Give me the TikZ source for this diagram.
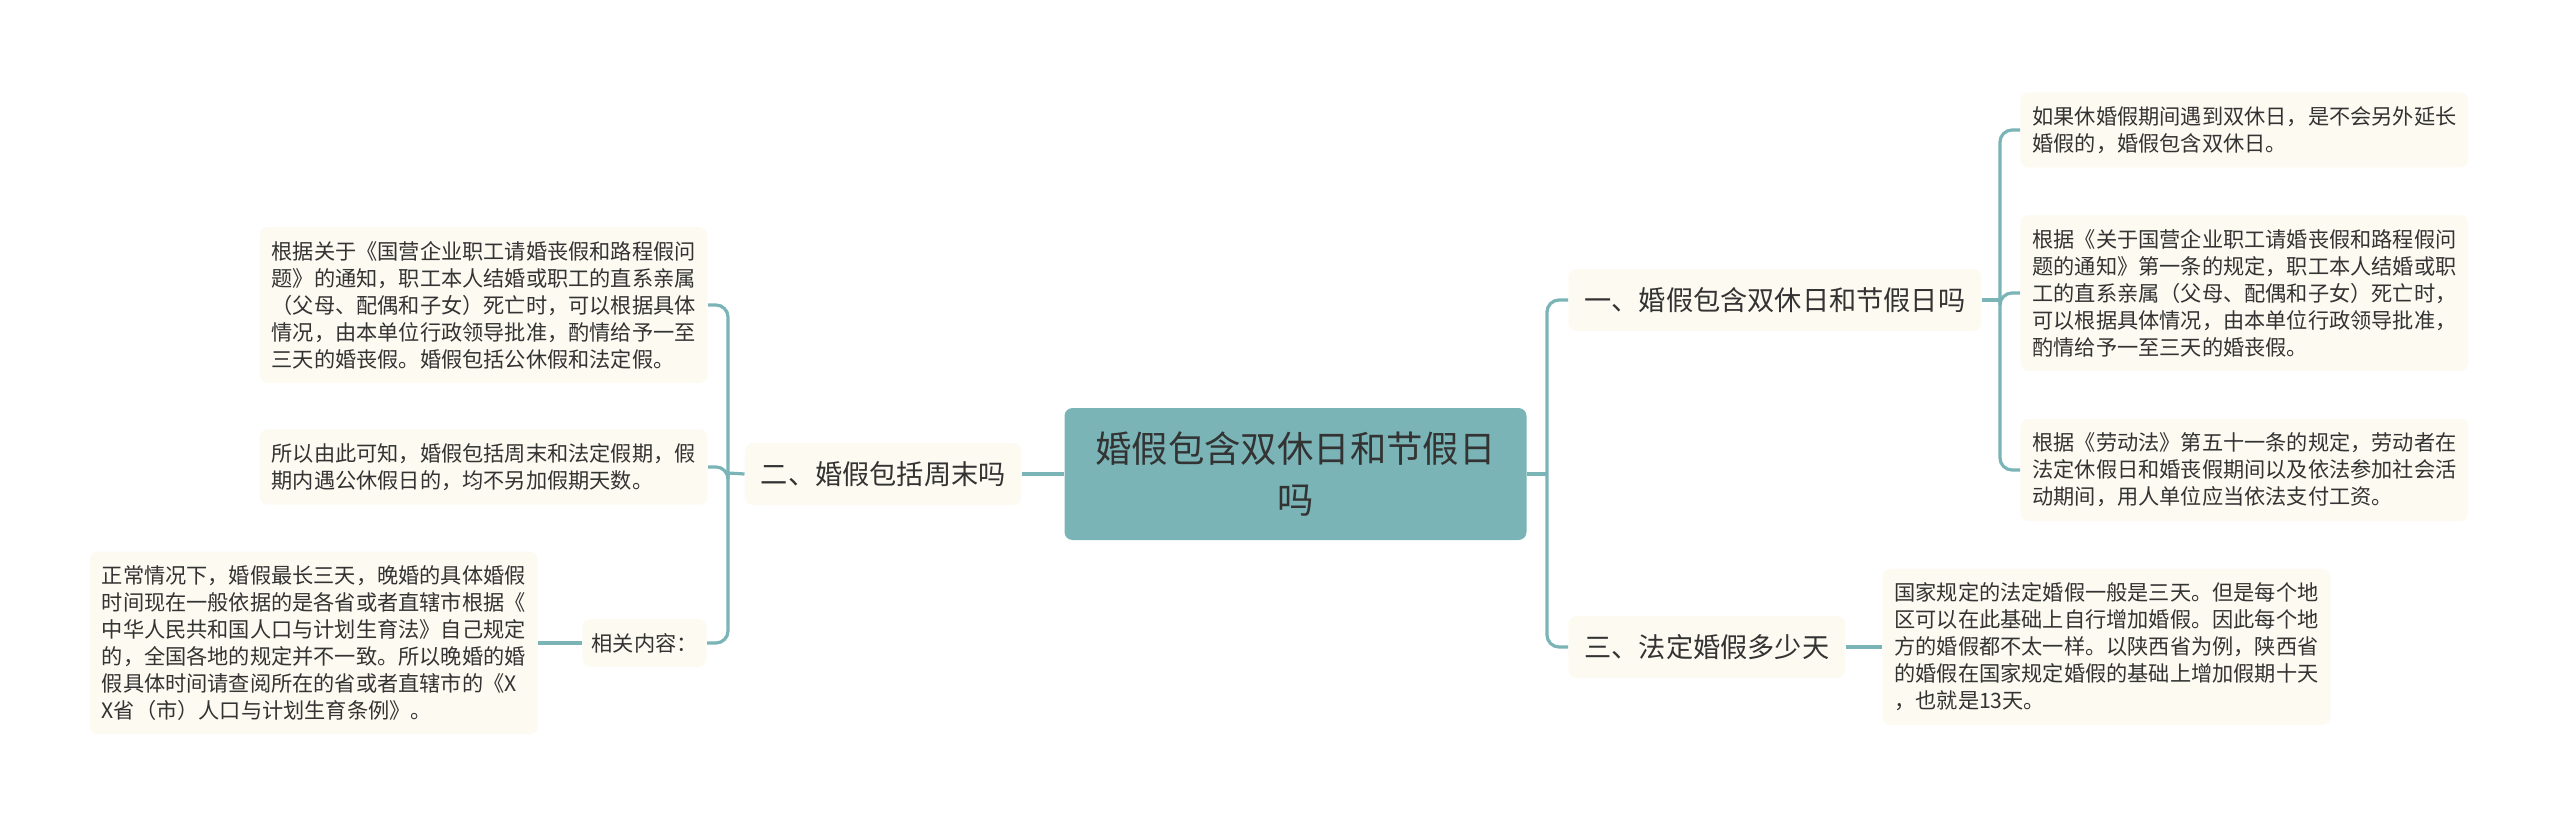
\documentclass[tikz,border=0pt]{standalone}
\usepackage{fontspec}
\setmainfont{Noto Sans CJK SC}
\usetikzlibrary{positioning}

\definecolor{rootteal}{HTML}{7AB4B6}
\definecolor{linkteal}{HTML}{7AB4B7}
\definecolor{leafbg}{HTML}{FCFAF1}
\definecolor{textdark}{HTML}{333333}

\begin{document}
\begin{tikzpicture}[
		x=0.5pt, y=-0.5pt,
		% Style for the central topic
		root/.style={
			fill=rootteal, rounded corners=4pt, align=center,
			minimum width=231pt, minimum height=66pt,
			font=\fontsize{18.2}{25.5}\selectfont, text=textdark
		},
		% First level topics
		branch/.style={fill=leafbg, rounded corners=4pt, inner xsep=8pt, minimum height=31pt,
			font=\fontsize{13.6}{16}\selectfont, text=textdark},
		% Text blocks at the ends
		leaf/.style={fill=leafbg, rounded corners=4pt, inner xsep=6pt, inner ysep=7pt, align=left,
			font=\fontsize{10.6}{13.5}\selectfont, text=textdark},
		% Connector style
		link/.style={draw=linkteal, line width=1.6pt, rounded corners=6pt}
		]
		
		\useasboundingbox (0,0) rectangle (2560,829);
		
		% ==============================================================================
		% 1. CENTRAL TOPIC
		% ==============================================================================
		\node[root] (root) at (1295.5,474) {婚假包含双休日和节假日\\吗};
		
		% ==============================================================================
		% 2. LEFT BRANCH: 二
		% ==============================================================================
		\node[branch, left=21pt of root] (b2) {二、婚假包括周末吗};
		
		\node[leaf, anchor=east] (l1) at (708,305) {
			根据关于《国营企业职工请婚丧假和路程假问\\
			题》的通知，职工本人结婚或职工的直系亲属\\
			（父母、配偶和子女）死亡时，可以根据具体\\
			情况，由本单位行政领导批准，酌情给予一至\\
			三天的婚丧假。婚假包括公休假和法定假。
		};
		\node[leaf, anchor=east] (l2) at (708,467) {
			所以由此可知，婚假包括周末和法定假期，假\\
			期内遇公休假日的，均不另加假期天数。
		};
		\node[leaf, inner xsep=4.5pt, anchor=east] (rel) at (707,643) {相关内容：};
		\node[leaf, left=22pt of rel] (l3) {
			正常情况下，婚假最长三天，晚婚的具体婚假\\
			时间现在一般依据的是各省或者直辖市根据《\\
			中华人民共和国人口与计划生育法》自己规定\\
			的，全国各地的规定并不一致。所以晚婚的婚\\
			假具体时间请查阅所在的省或者直辖市的《X\\
			X省（市）人口与计划生育条例》。
		};
		
		% ==============================================================================
		% 3. RIGHT BRANCHES: 一 and 三
		% ==============================================================================
		\node[branch, anchor=west] (b1) at (1568,300) {一、婚假包含双休日和节假日吗};
		\node[branch, anchor=west] (b3) at (1568,647) {三、法定婚假多少天};
		
		\node[leaf, anchor=west] (c1) at (2020,130) {
			如果休婚假期间遇到双休日，是不会另外延长\\
			婚假的，婚假包含双休日。
		};
		\node[leaf, anchor=west] (c2) at (2020,293) {
			根据《关于国营企业职工请婚丧假和路程假问\\
			题的通知》第一条的规定，职工本人结婚或职\\
			工的直系亲属（父母、配偶和子女）死亡时，\\
			可以根据具体情况，由本单位行政领导批准，\\
			酌情给予一至三天的婚丧假。
		};
		\node[leaf, anchor=west] (c3) at (2020,470) {
			根据《劳动法》第五十一条的规定，劳动者在\\
			法定休假日和婚丧假期间以及依法参加社会活\\
			动期间，用人单位应当依法支付工资。
		};
		\node[leaf, anchor=west] (c4) at (1882,647) {
			国家规定的法定婚假一般是三天。但是每个地\\
			区可以在此基础上自行增加婚假。因此每个地\\
			方的婚假都不太一样。以陕西省为例，陕西省\\
			的婚假在国家规定婚假的基础上增加假期十天\\
			，也就是13天。
		};
		
		% ==============================================================================
		% 4. CONNECTORS
		% ==============================================================================
		\coordinate (ltrunk) at (728,473);
		\coordinate (rtrunk) at (1547,474);
		\coordinate (r1trunk) at (2000,300);
		
		\draw[link] (root.west) -- (b2.east);
		\draw[link] (b2.west) -- (ltrunk);
		\draw[link] (l1.east) -| (ltrunk) |- (rel.east);
		\draw[link] (ltrunk) |- (l2.east);
		\draw[link] (rel.west) -- (l3.east);
		
		\draw[link] (root.east) -- (rtrunk);
		\draw[link] (b1.west) -| (rtrunk) |- (b3.west);
		\draw[link] (b1.east) -- (r1trunk);
		\draw[link] (c1.west) -| (r1trunk) |- (c3.west);
		\draw[link] (r1trunk) |- (c2.west);
		\draw[link] (b3.east) -- (c4.west);
	\end{tikzpicture}
\end{document}
